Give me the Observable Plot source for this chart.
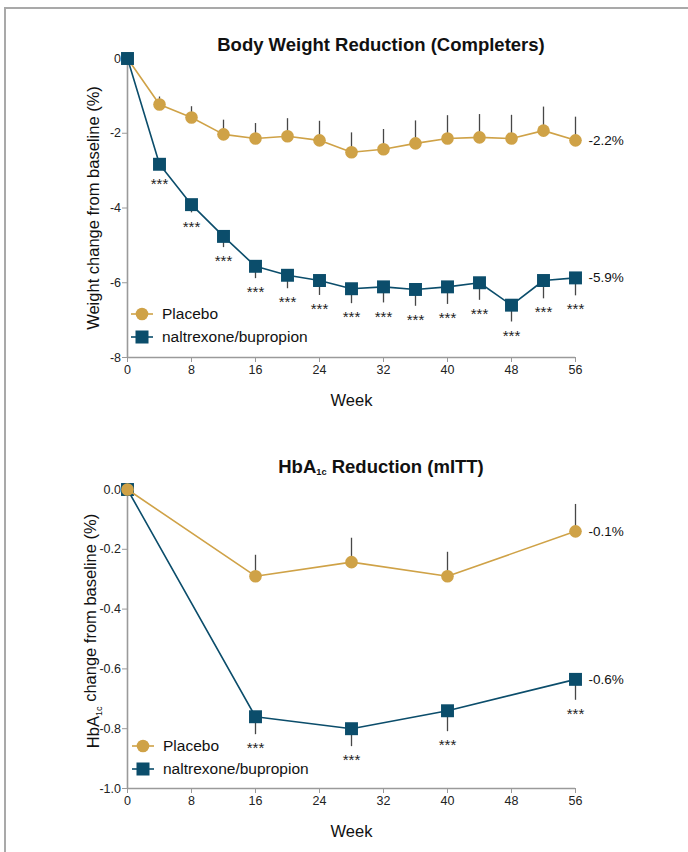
<!DOCTYPE html>
<html>
<head>
<meta charset="utf-8">
<script src="https://cdn.jsdelivr.net/npm/d3@7"></script>
<script src="https://cdn.jsdelivr.net/npm/@observablehq/plot@0.6"></script>
<style>
  html, body { margin: 0; padding: 0; background: #fff; }
  #wrap { position: relative; width: 688px; height: 852px; overflow: hidden; background: #fff;
    font-family: "Liberation Sans", Arial, Helvetica, sans-serif; color: #111; }
  #frame { position: absolute; left: 4px; top: 7px; width: 700px; height: 900px;
    border-top: 2px solid #a9a9a9; border-left: 2px solid #a9a9a9; }
  .title { position: absolute; left: 0; width: 762px; text-align: center; font-weight: bold; font-size: 18.5px; line-height: 1; }
  .title sub { font-size: 0.5em; vertical-align: -0.25em; }
  .plot { position: absolute; left: 0; }
  .legend { position: absolute; font-size: 15.5px; }
  .legend .row { position: absolute; white-space: nowrap; height: 22px; }
  .legend svg { position: absolute; left: 0; top: 0; }
  .legend span { position: absolute; left: 32px; top: 2px; line-height: 18px; }
</style>
</head>
<body>
<div id="wrap">
  <div id="frame"></div>
  <div class="title" style="top:36px">Body Weight Reduction (Completers)</div>
  <div class="title" style="top:458px">HbA<sub>1c</sub> Reduction (mITT)</div>
  <div id="p1" class="plot" style="top:0px"></div>
  <div id="p2" class="plot" style="top:430px"></div>
  <div id="leg1" class="legend" style="left:130px; top:303px"></div>
  <div id="leg2" class="legend" style="left:131px; top:735px"></div>
</div>
<script>
// ---------- Data: Body weight (completers) ----------
const weeks1 = [0, 4, 8, 12, 16, 20, 24, 28, 32, 36, 40, 44, 48, 52, 56];
const placebo1 = [0, -1.23, -1.58, -2.03, -2.14, -2.08, -2.19, -2.51, -2.43, -2.27, -2.14, -2.11, -2.14, -1.93, -2.19];
const placeboErr1 = [0, 0.20, 0.29, 0.38, 0.40, 0.47, 0.51, 0.52, 0.53, 0.60, 0.61, 0.61, 0.62, 0.63, 0.62];
const nal1 = [0, -2.83, -3.91, -4.76, -5.56, -5.80, -5.94, -6.16, -6.11, -6.18, -6.11, -6.00, -6.60, -5.94, -5.87];
const nalErr1 = [0, 0.15, 0.22, 0.30, 0.33, 0.36, 0.40, 0.40, 0.43, 0.45, 0.47, 0.47, 0.45, 0.49, 0.48];
const sig1 = ["", "***", "***", "***", "***", "***", "***", "***", "***", "***", "***", "***", "***", "***", "***"];
const endLabels1 = ["-2.2%", "-5.9%"];
const yTicks1 = [-8, -6, -4, -2, 0];

// ---------- Data: HbA1c (mITT) ----------
const weeks2 = [0, 16, 28, 40, 56];
const placebo2 = [0, -0.29, -0.243, -0.29, -0.14];
const placeboErr2 = [0, 0.07, 0.08, 0.08, 0.09];
const nal2 = [0, -0.76, -0.80, -0.74, -0.635];
const nalErr2 = [0, 0.06, 0.06, 0.07, 0.07];
const sig2 = ["", "***", "***", "***", "***"];
const endLabels2 = ["-0.1%", "-0.6%"];
const yTicks2 = [-1.0, -0.8, -0.6, -0.4, -0.2, 0.0];

const xTicks = [0, 8, 16, 24, 32, 40, 48, 56];
const seriesNames = ["Placebo", "naltrexone/bupropion"];
const GOLD = "#cfa247";
const TEAL = "#0b4d6b";
const ERR = "#474747";
const AXIS = "#9a9a9a";
const FONT = '"Liberation Sans", Arial, Helvetica, sans-serif';

function rows(weeks, vals, errs, sig) {
  return weeks.map((w, i) => ({week: w, value: vals[i], err: errs[i], sig: sig ? sig[i] : ""}));
}

function seriesMarks(data, color, symbol, r, up) {
  const errData = data.filter(d => d.err > 0);
  return [
    Plot.ruleX(errData, {x: "week", y1: "value", y2: d => up ? d.value + d.err : d.value - d.err, stroke: ERR, strokeWidth: 1.3}),
    Plot.line(data, {x: "week", y: "value", stroke: color, strokeWidth: 1.6}),
    Plot.dot(data, {x: "week", y: "value", symbol, r, fill: color, stroke: "none"})
  ];
}

function makeChart(opts) {
  const {height, marginTop, marginBottom, yDomain, yTicks, yFormat, pl, nl, endLabels, yLabel, yLabelDy, placeboOnTop} = opts;
  const plMarks = seriesMarks(pl, GOLD, "circle", 6.3, true);
  const nlMarks = seriesMarks(nl, TEAL, "square", 7.3, false);
  const last = [pl[pl.length - 1], nl[nl.length - 1]].map((d, i) => ({...d, label: endLabels[i]}));
  const stars = nl.filter(d => d.sig);
  return Plot.plot({
    width: 688,
    height,
    marginLeft: 127,
    marginRight: 113,
    marginTop,
    marginBottom,
    style: {fontFamily: FONT, fontSize: "12px", background: "transparent", color: "#222", overflow: "visible"},
    x: {domain: [0, 56]},
    y: {domain: yDomain},
    marks: [
      Plot.ruleX([0], {stroke: AXIS, strokeWidth: 1.6}),
      Plot.ruleY([yDomain[0]], {stroke: AXIS, strokeWidth: 1.6}),
      Plot.axisX({ticks: xTicks, tickFormat: d => String(d), tickSize: 5, tickPadding: 3, stroke: AXIS, fill: "#222", fontSize: 12.5, label: null}),
      Plot.axisY({ticks: yTicks, tickFormat: yFormat, tickSize: 5, tickPadding: 1.5, stroke: AXIS, fill: "#222", fontSize: 12.5, label: null}),
      Plot.text(["Week"], {frameAnchor: "bottom", lineAnchor: "middle", textAnchor: "middle", dy: 43, fontSize: 16.5, fill: "#111"}),
      Plot.text([yLabel], {frameAnchor: "left", textAnchor: "middle", lineAnchor: "middle", rotate: -90, dx: -34, dy: yLabelDy, fontSize: 16.5, fill: "#111"}),
      ...(placeboOnTop ? [...nlMarks, ...plMarks] : [...plMarks, ...nlMarks]),
      Plot.text(stars, {x: "week", y: d => d.value - d.err, text: "sig", lineAnchor: "top", dy: 8, fontSize: 15, letterSpacing: "0.5px", fill: "#222"}),
      Plot.text(last, {x: "week", y: "value", text: "label", textAnchor: "start", dx: 13, fontSize: 13.5, fill: "#111"})
    ]
  });
}

const chart1 = makeChart({
  height: 430, marginTop: 58, marginBottom: 73,
  yDomain: [-8, 0], yTicks: yTicks1, yFormat: d => String(d),
  pl: rows(weeks1, placebo1, placeboErr1),
  nl: rows(weeks1, nal1, nalErr1, sig1),
  endLabels: endLabels1,
  yLabel: "Weight change from baseline (%)", yLabelDy: 0,
  placeboOnTop: false
});
document.getElementById("p1").appendChild(chart1);

const chart2 = makeChart({
  height: 422, marginTop: 59, marginBottom: 64,
  yDomain: [-1, 0], yTicks: yTicks2, yFormat: d => (Math.abs(d) < 1e-9 ? "0.0" : d.toFixed(1)),
  pl: rows(weeks2, placebo2, placeboErr2),
  nl: rows(weeks2, nal2, nalErr2, sig2),
  endLabels: endLabels2,
  yLabel: "HbA1c change from baseline (%)", yLabelDy: -8,
  placeboOnTop: true
});
document.getElementById("p2").appendChild(chart2);

// subscript "1c" in the HbA1c axis label
d3.select(chart2).selectAll("text").filter(function () {
  return this.textContent === "HbA1c change from baseline (%)";
}).each(function () {
  const t = d3.select(this);
  t.text(null);
  t.append("tspan").text("HbA");
  t.append("tspan").attr("dy", "0.35em").attr("font-size", "0.55em").text("1c");
  t.append("tspan").attr("dy", "-0.35em").text(" change from baseline (%)");
});

// legends
function legend(el) {
  const root = d3.select(el);
  const items = [{name: seriesNames[0], color: GOLD, sym: "circle"}, {name: seriesNames[1], color: TEAL, sym: "square"}];
  items.forEach((it, i) => {
    const row = root.append("div").attr("class", "row").style("left", "0px").style("top", (i * 23) + "px");
    const svg = row.append("svg").attr("width", 30).attr("height", 22);
    svg.append("line").attr("x1", 1).attr("x2", 23).attr("y1", 11).attr("y2", 11).attr("stroke", it.color).attr("stroke-width", 1.6);
    if (it.sym === "circle") svg.append("circle").attr("cx", 12).attr("cy", 11).attr("r", 6.3).attr("fill", it.color);
    else svg.append("rect").attr("x", 5.5).attr("y", 4.5).attr("width", 13).attr("height", 13).attr("fill", it.color);
    row.append("span").text(it.name);
  });
}
legend(document.getElementById("leg1"));
legend(document.getElementById("leg2"));
</script>
</body>
</html>
